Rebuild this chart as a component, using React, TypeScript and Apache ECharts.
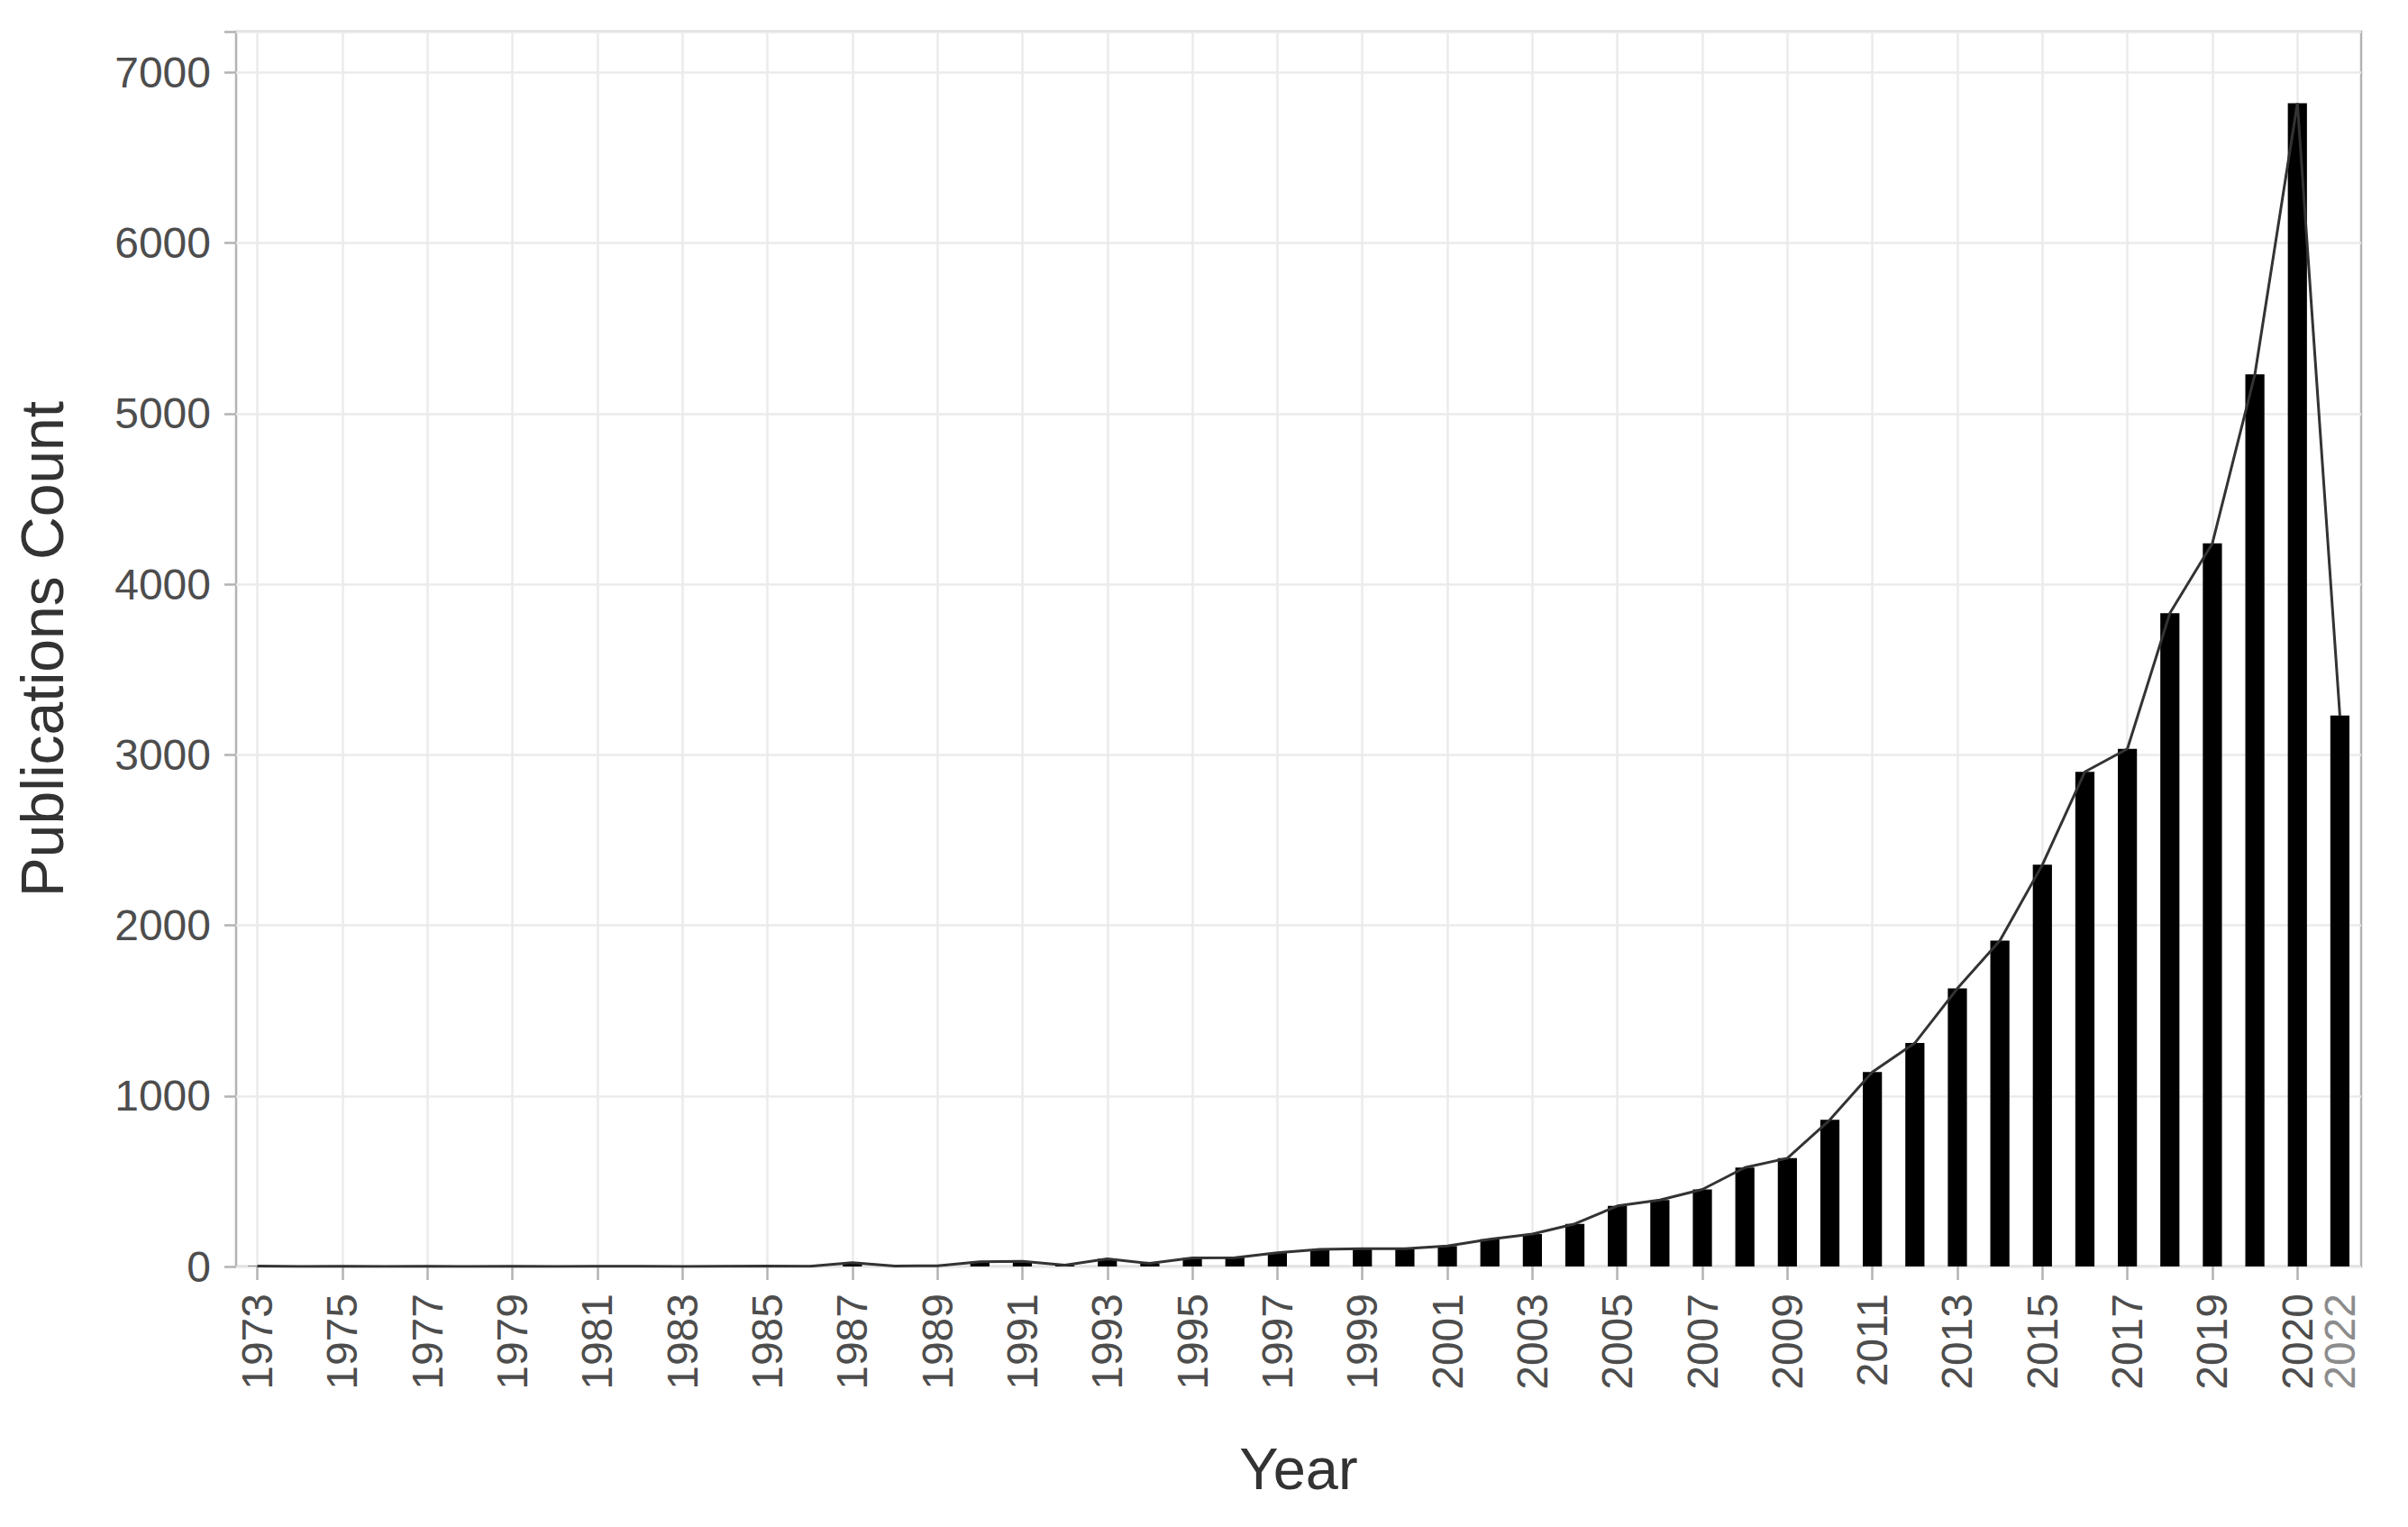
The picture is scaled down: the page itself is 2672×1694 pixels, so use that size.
import React, { useEffect, useRef } from "react";
import * as echarts from "echarts";

const years = [
  "1973", "1974", "1975", "1976", "1977", "1978", "1979", "1980", "1981", "1982",
  "1983", "1984", "1985", "1986", "1987", "1988", "1989", "1990", "1991", "1992",
  "1993", "1994", "1995", "1996", "1997", "1998", "1999", "2000", "2001", "2002",
  "2003", "2004", "2005", "2006", "2007", "2008", "2009", "2010", "2011", "2012",
  "2013", "2014", "2015", "2016", "2017", "2018", "2019", "2020", "2021", "2022",
];

const publications = [
  2, 0, 1, 0, 1, 0, 1, 0, 1, 1,
  0, 1, 2, 1, 22, 3, 4, 28, 30, 8,
  45, 18, 50, 52, 80, 100, 105, 105, 120, 160,
  190, 250, 355, 390, 452, 580, 635, 860, 1140, 1310,
  1630, 1910, 2355, 2900, 3035, 3830, 4240, 5230, 6820, 3230,
];

// Text printed under each category (empty = no label)
const xTickLabels = [
  "1973", "", "1975", "", "1977", "", "1979", "", "1981", "",
  "1983", "", "1985", "", "1987", "", "1989", "", "1991", "",
  "1993", "", "1995", "", "1997", "", "1999", "", "2001", "",
  "2003", "", "2005", "", "2007", "", "2009", "", "2011", "",
  "2013", "", "2015", "", "2017", "", "2019", "", "2020", "2022",
];

const yTicks = [0, 1000, 2000, 3000, 4000, 5000, 6000, 7000];

const FONT = "'Liberation Sans', Arial, sans-serif";

export default function App() {
  const ref = useRef<HTMLDivElement>(null);

  useEffect(() => {
    document.body.style.margin = "0";
    if (!ref.current) return;
    const chart = echarts.init(ref.current, undefined, { renderer: "svg" });
    const lastIdx = years.length - 1;
    const tickShown = (i: number) => i % 2 === 0 && i < lastIdx;

    chart.setOption({
      animation: false,
      backgroundColor: "#ffffff",
      grid: {
        left: 262,
        right: 52,
        top: 35,
        bottom: 289,
        show: true,
        borderColor: "#b3b3b3",
        borderWidth: 2.5,
        backgroundColor: "transparent",
      },
      xAxis: {
        type: "category",
        data: years,
        boundaryGap: true,
        name: "Year",
        nameLocation: "middle",
        nameGap: 192,
        nameTextStyle: { fontSize: 65, color: "#333333", fontFamily: FONT },
        axisLine: { show: false },
        axisTick: {
          show: true,
          alignWithLabel: true,
          interval: (i: number) => tickShown(i),
          length: 15,
          lineStyle: { color: "#b3b3b3", width: 2.5 },
        },
        splitLine: {
          show: true,
          alignWithLabel: true,
          interval: (i: number) => tickShown(i),
          lineStyle: { color: "#ebebeb", width: 2.5 },
        },
        axisLabel: {
          interval: 0,
          rotate: 90,
          margin: 30,
          fontSize: 48,
          color: "#4d4d4d",
          fontFamily: FONT,
          formatter: (_v: string, i: number) => {
            const t = xTickLabels[i];
            if (!t) return "";
            return i === lastIdx ? `{late|${t}}` : t;
          },
          rich: {
            late: { fontSize: 48, color: "#8c8c8c", fontFamily: FONT },
          },
        },
      },
      yAxis: {
        type: "value",
        min: yTicks[0],
        max: 7240,
        interval: 1000,
        name: "Publications Count",
        nameLocation: "middle",
        nameGap: 182,
        nameTextStyle: { fontSize: 66, color: "#333333", fontFamily: FONT },
        axisLine: { show: false },
        axisTick: {
          show: true,
          length: 13,
          lineStyle: { color: "#b3b3b3", width: 2.5 },
        },
        splitLine: {
          show: true,
          lineStyle: { color: "#ebebeb", width: 2.5 },
        },
        axisLabel: {
          margin: 28,
          fontSize: 48,
          color: "#4d4d4d",
          fontFamily: FONT,
          formatter: (v: number) => (yTicks.indexOf(v) >= 0 ? String(v) : ""),
        },
      },
      series: [
        {
          type: "bar",
          data: publications,
          barWidth: "45%",
          itemStyle: { color: "#000000" },
          z: 2,
        },
        {
          type: "line",
          data: publications,
          symbol: "none",
          lineStyle: { color: "#333333", width: 3 },
          z: 3,
        },
      ],
    });

    return () => chart.dispose();
  }, []);

  return <div ref={ref} style={{ width: 2672, height: 1694 }} />;
}
